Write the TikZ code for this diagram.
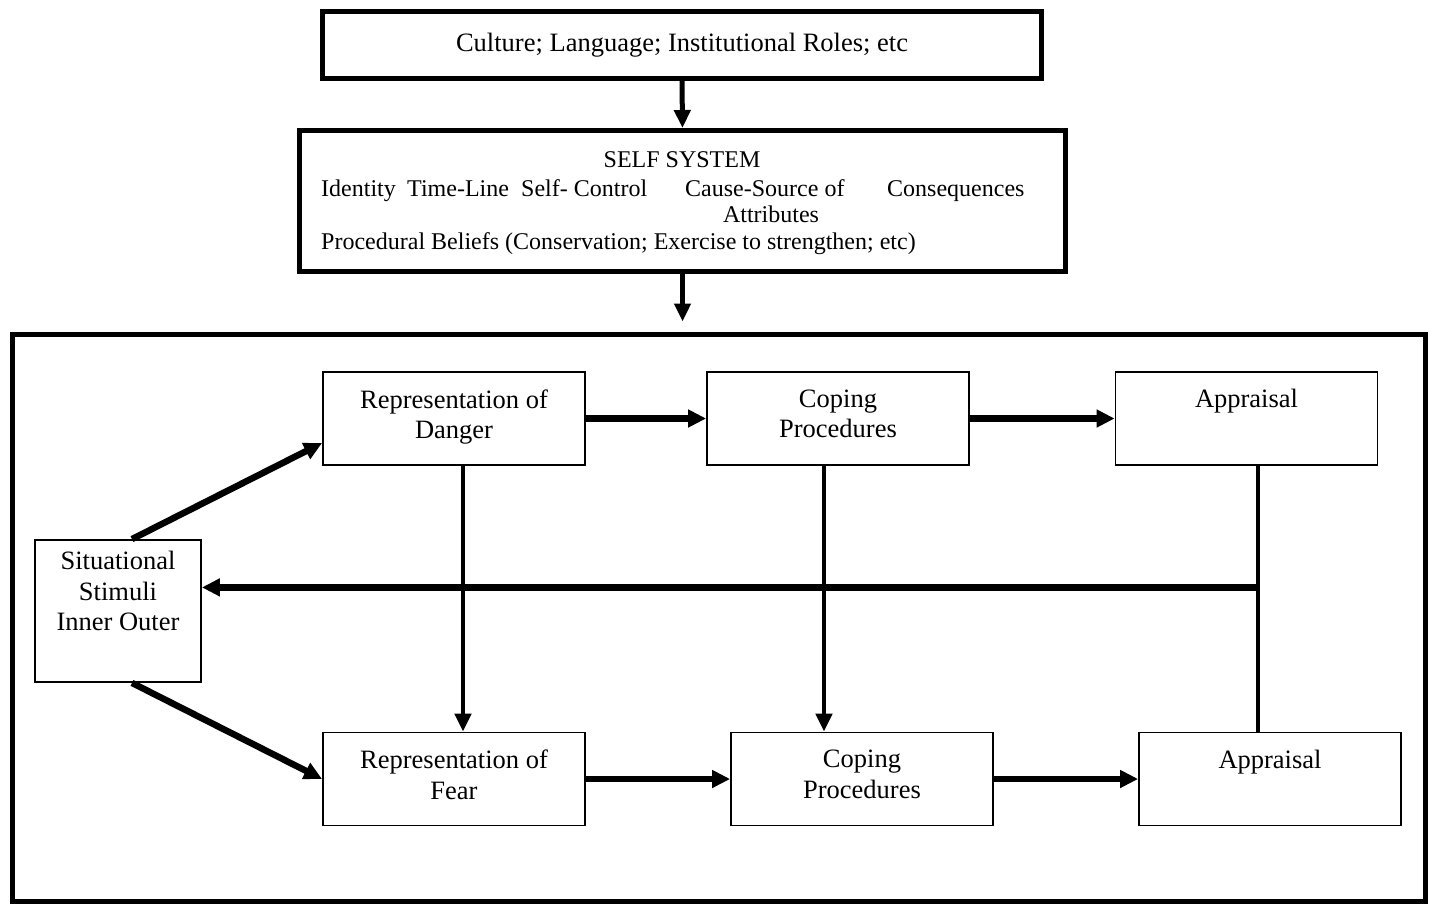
\documentclass[tikz,border=0pt]{standalone}
\usepackage{fontspec}
\setmainfont{Liberation Serif}
\usetikzlibrary{arrows.meta,calc}
\begin{document}
\begin{tikzpicture}[x=1pt,y=-1pt,
  frame/.style={draw,line width=5pt,inner sep=0pt},
  stage/.style={draw,line width=1.8pt,minimum width=262pt,minimum height=93pt,inner sep=0pt,
    align=center,font=\fontsize{26.5}{30.5}\selectfont},
  selftext/.style={inner sep=0pt,font=\fontsize{24}{27.6}\selectfont},
  flow/.style={line width=6.5pt,-{Triangle[length=18pt,width=17pt]}},
  drop/.style={line width=4.5pt,-{Triangle[length=18pt,width=16pt]}},
  link/.style={line width=4.5pt},
]
\useasboundingbox (0,0) rectangle (1434,907);
\fill[white] (0,0) rectangle (1434,907);

% context and self-system frames
\node[frame,minimum width=719pt,minimum height=67pt,font=\fontsize{26.5}{30.5}\selectfont]
  (top) at (682,45) {Culture; Language; Institutional Roles; etc};
\node[frame,minimum width=766pt,minimum height=141pt] (self) at (682.5,201) {};
\node[frame,minimum width=1413pt,minimum height=567pt] (outer) at (719,617.5) {};

% self-system contents
\node[selftext,anchor=base] (selfhead) at (682,167) {SELF SYSTEM};
\node[selftext,anchor=base west] (identity) at (321,196) {Identity};
\node[selftext,anchor=base west] (timeline) at (407,196) {Time-Line};
\node[selftext,anchor=base west] (control) at (521,196) {Self- Control};
\node[selftext,anchor=base west] (cause) at (685,196) {Cause-Source of};
\node[selftext,anchor=base west] (conseq) at (887,196) {Consequences};
\node[selftext,anchor=base] (attrib) at (771,222) {Attributes};
\node[selftext,anchor=base west] (beliefs) at (321,249)
  {Procedural Beliefs (Conservation; Exercise to strengthen; etc)};

% process stages
\node[stage] (rd)  at (454,418.5)  {Representation of\\Danger\strut};
\node[stage] (cp1) at (838,418.5)  {Coping\\Procedures\strut};
\node[stage] (ap1) at (1246.5,418.5) {Appraisal\\\strut};
\node[stage,minimum width=166pt,minimum height=142pt] (ss) at (118,611)
  {Situational\\Stimuli\\Inner Outer\\\strut};
\node[stage] (rf)  at (454,779)  {Representation of\\Fear\strut};
\node[stage] (cp2) at (862,779)  {Coping\\Procedures\strut};
\node[stage] (ap2) at (1270,779) {Appraisal\\\strut};

% top-down influence
\coordinate (entry) at ($(self.south |- outer.north)+(0,-10)$);
\draw[drop,line width=5pt] (top.south) -- (self.north);
\draw[drop,line width=5pt] (self.south) -- (entry);

% stimulus to the two representations
\draw[flow] ([xshift=14pt]ss.north) -- ([yshift=-24.5pt]rd.west);
\draw[flow] ([xshift=14pt]ss.south) -- (rf.west);

% danger control path
\draw[flow] (rd.east) -- (cp1.west);
\draw[flow] (cp1.east) -- (ap1.west);

% fear control path
\draw[flow] (rf.east) -- (cp2.west);
\draw[flow] (cp2.east) -- (ap2.west);

% cross links between the paths
\coordinate (rdd) at ([xshift=9pt]rd.south);
\draw[drop] (rdd) -- (rdd |- rf.north);
\coordinate (cpd) at ([xshift=-14pt]cp1.south);
\draw[drop] (cpd) -- (cpd |- cp2.north);

% appraisal feedback to the stimuli
\coordinate (apd) at ([xshift=11.5pt]ap1.south);
\draw[link] (apd) -- (apd |- ap2.north);
\coordinate (fb) at ($(apd)+(0,121.5)$);
\draw[flow] (fb) -- (fb -| ss.east);
\end{tikzpicture}
\end{document}
